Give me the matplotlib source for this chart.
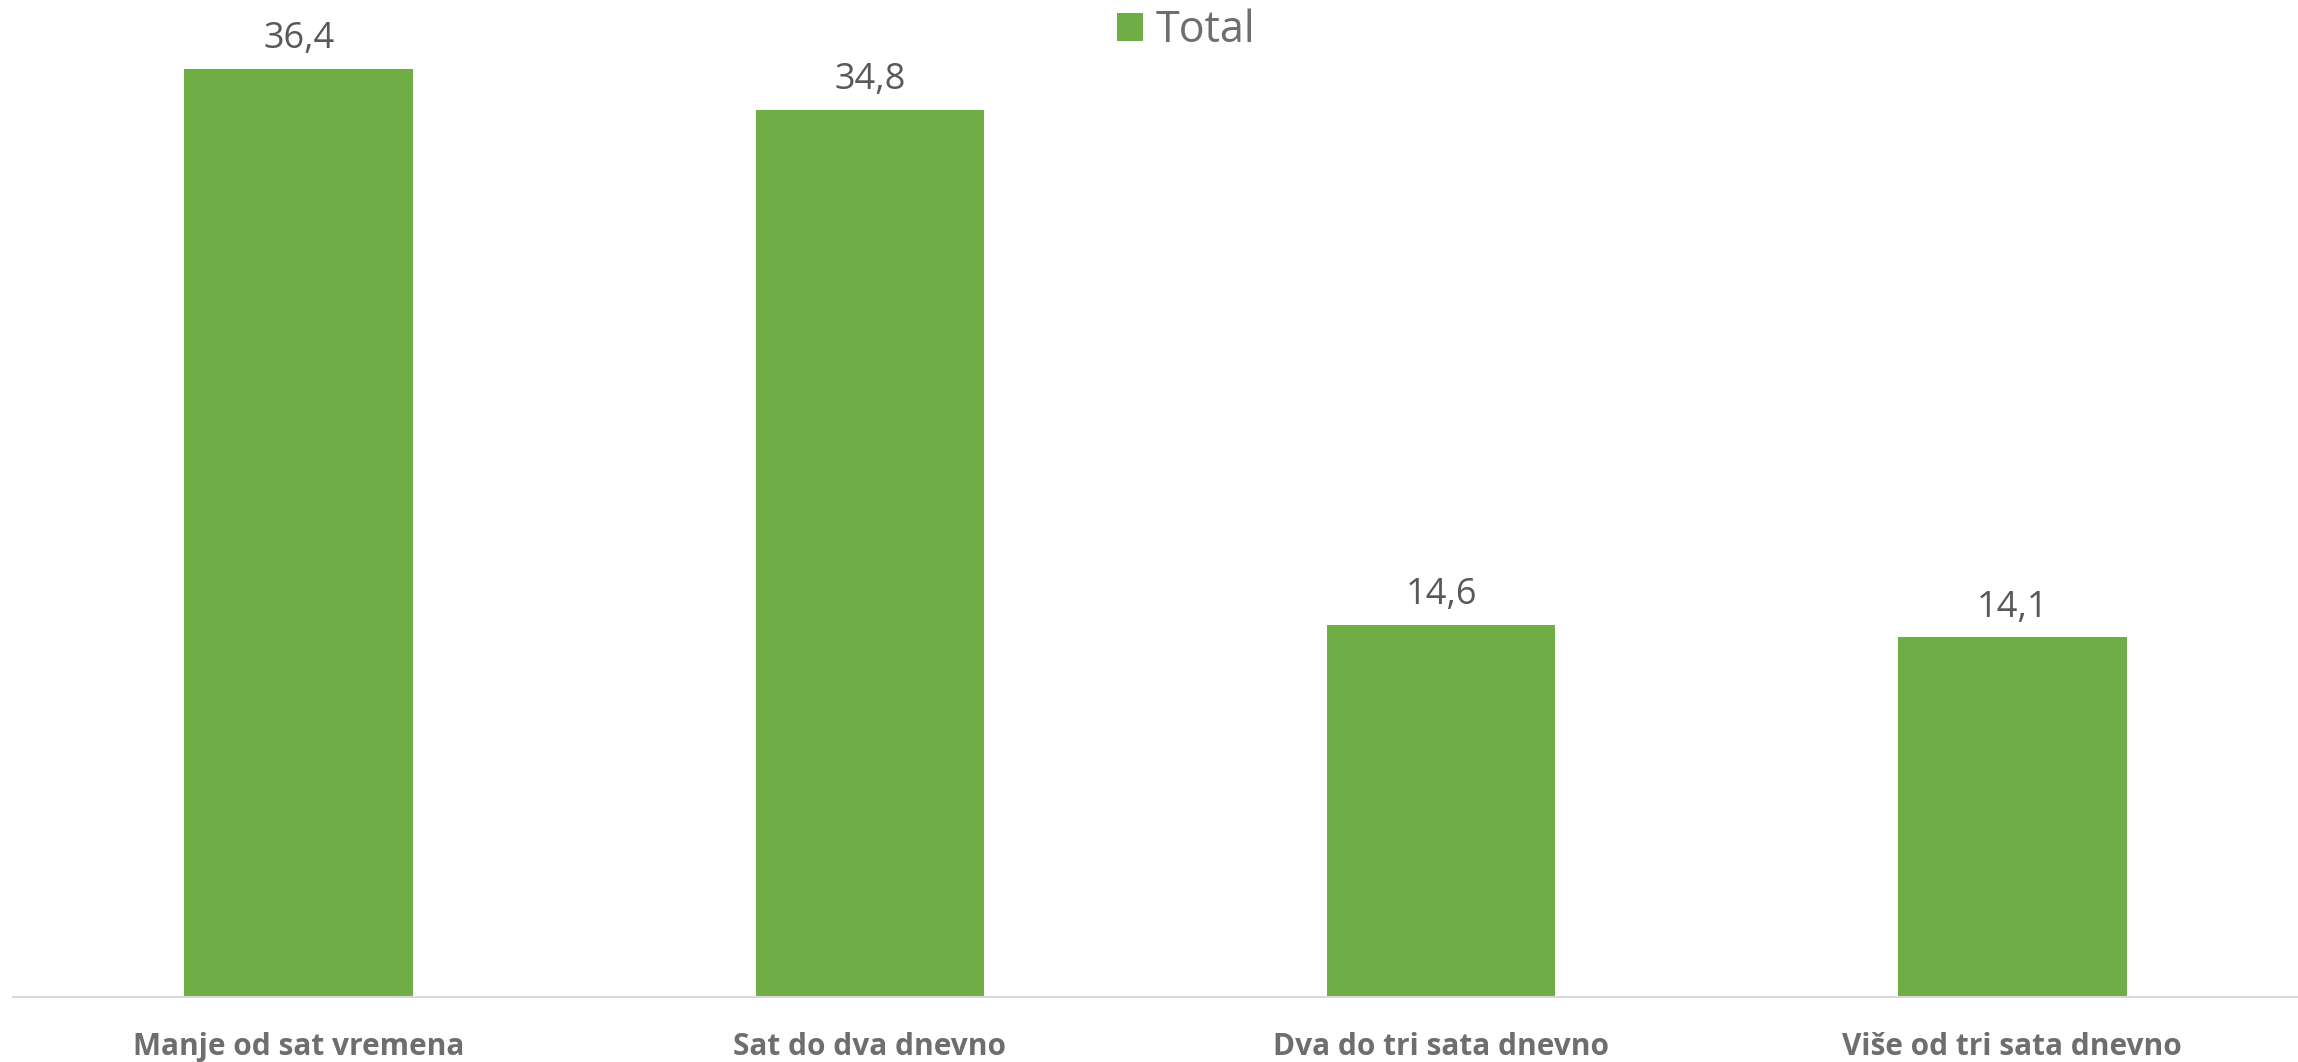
import matplotlib
matplotlib.use("Agg")
import matplotlib.pyplot as plt
from matplotlib.patches import Patch

# ------------------------------
# Data
# ------------------------------
categories = ["Manje od sat vremena", "Sat do dva dnevno",
              "Dva do tri sata dnevno", "Više od tri sata dnevno"]
values = [36.4, 34.8, 14.6, 14.1]
series_name = "Total"

bar_color = "#70AD47"
plt.rcParams["font.family"] = ["Open Sans", "DejaVu Sans"]

# ------------------------------
# Figure / axes layout
# ------------------------------
W, H, DPI = 2298, 1062, 100
fig = plt.figure(figsize=(W / DPI, H / DPI), dpi=DPI)
ax = fig.add_axes([13 / W, 65 / H, 1 - 13 / W, 997 / H])

x = list(range(len(categories)))
bars = ax.bar(x, values, width=0.4, color=bar_color, zorder=2)

ax.set_xlim(-0.5, len(categories) - 0.5)
ax.set_ylim(0, 39.1)

# value labels above the bars, decimal comma
for xi, v in zip(x, values):
    ax.annotate(f"{v:.1f}".replace(".", ","), xy=(xi, v), xytext=(0, 15),
                textcoords="offset points", ha="center", va="baseline",
                fontsize=26, color="#595959")

# category labels
ax.set_xticks(x)
ax.set_xticklabels(categories, fontsize=21.5, fontweight="bold", color="#6E6E6E")
ax.tick_params(axis="x", length=0, pad=25)
ax.set_yticks([])

for side in ["top", "left", "right"]:
    ax.spines[side].set_visible(False)
ax.spines["bottom"].set_color("#D9D9D9")
ax.spines["bottom"].set_linewidth(1.5)

# legend at the top
handle = Patch(facecolor=bar_color, edgecolor="none")
leg = fig.legend([handle], [series_name], loc="center",
                 bbox_to_anchor=(1186 / W, 1 - 31 / H), frameon=False,
                 fontsize=31, handlelength=0.6, handleheight=0.6,
                 handletextpad=0.3, borderaxespad=0)
for t in leg.get_texts():
    t.set_color("#6E6E6E")

fig.savefig("out.png", dpi=DPI)
